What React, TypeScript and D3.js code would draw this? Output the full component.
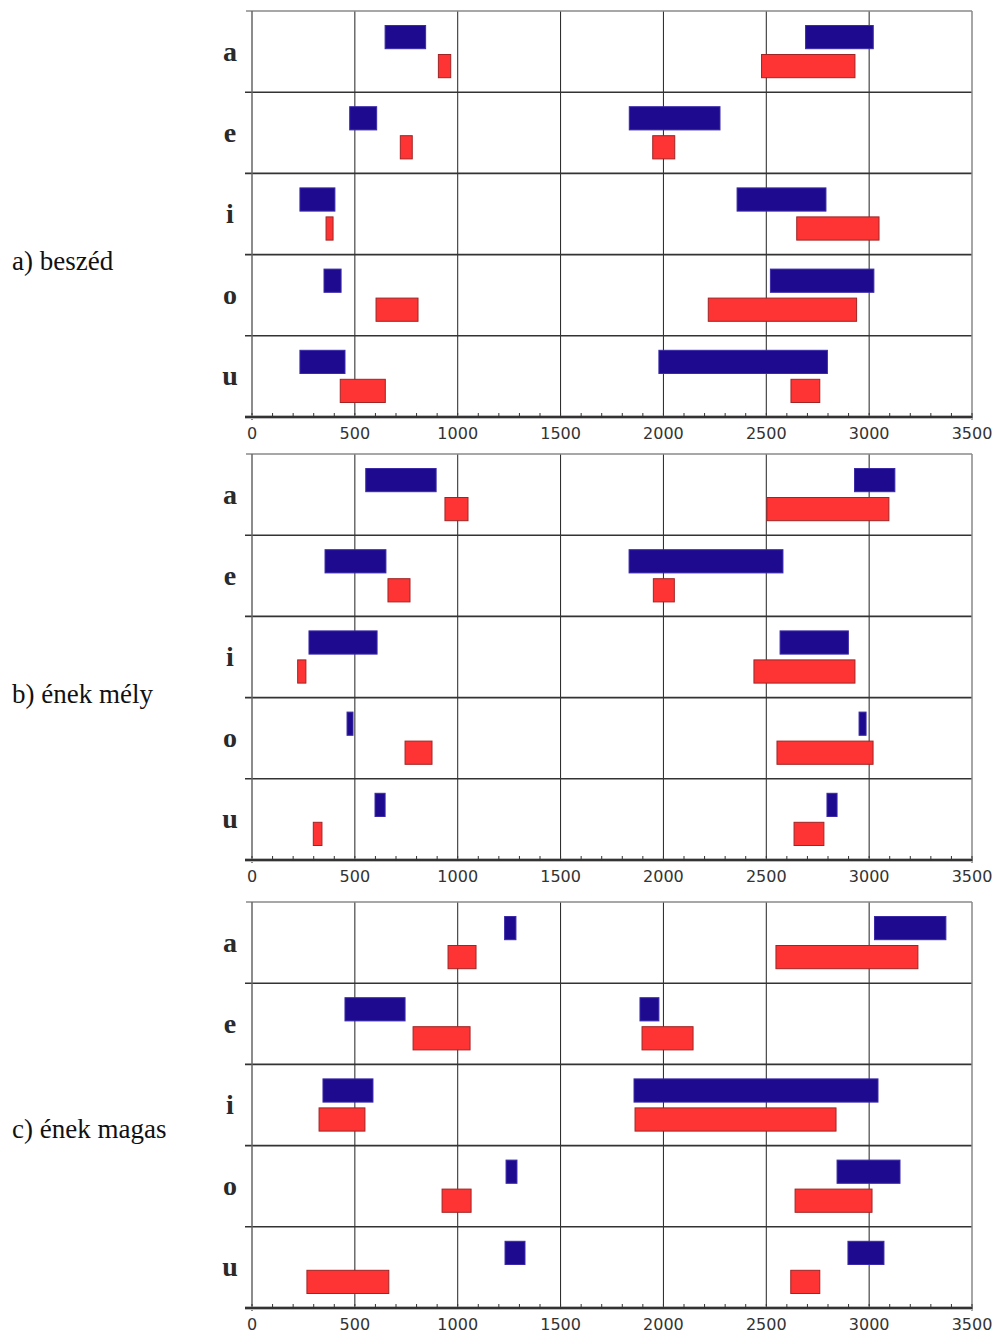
import React from 'react';
import * as d3 from 'd3';

// formant ranges (Hz): [[low start, low end], [high start, high end]] per vowel
const vowels = ['a', 'e', 'i', 'o', 'u'];
const xTicks = [0, 500, 1000, 1500, 2000, 2500, 3000, 3500];
const panelNames = ['a) beszéd', 'b) ének mély', 'c) ének magas'];

const beszedBlue = [
  [[647, 844], [2691, 3020]],
  [[475, 606], [1834, 2275]],
  [[233, 403], [2358, 2790]],
  [[350, 433], [2520, 3023]],
  [[233, 452], [1978, 2797]],
];
const beszedRed = [
  [[906, 966], [2477, 2931]],
  [[721, 779], [1948, 2055]],
  [[360, 394], [2648, 3048]],
  [[603, 807], [2218, 2939]],
  [[429, 648], [2620, 2760]],
];

const melyBlue = [
  [[553, 895], [2929, 3125]],
  [[355, 651], [1833, 2581]],
  [[277, 608], [2567, 2899]],
  [[462, 491], [2951, 2985]],
  [[598, 647], [2795, 2844]],
];
const melyRed = [
  [[938, 1050], [2503, 3096]],
  [[661, 768], [1951, 2053]],
  [[222, 262], [2440, 2931]],
  [[744, 875], [2552, 3019]],
  [[298, 340], [2635, 2780]],
];

const magasBlue = [
  [[1228, 1283], [3026, 3373]],
  [[452, 744], [1886, 1978]],
  [[345, 588], [1857, 3043]],
  [[1235, 1288], [2844, 3150]],
  [[1230, 1327], [2897, 3072]],
];
const magasRed = [
  [[953, 1089], [2547, 3237]],
  [[783, 1060], [1896, 2144]],
  [[326, 549], [1862, 2839]],
  [[924, 1065], [2640, 3014]],
  [[267, 665], [2619, 2760]],
];

const panels = [
  { name: panelNames[0], blue: beszedBlue, red: beszedRed },
  { name: panelNames[1], blue: melyBlue, red: melyRed },
  { name: panelNames[2], blue: magasBlue, red: magasRed },
];

const W = 1000;
const H = 1335;
const panelTops = [11, 454, 902];
const panelH = 406;
const labelBaselines = [270, 703, 1138];

const BLUE = '#1e0a8e';
const BLUE_STROKE = '#3a2aa8';
const RED = '#fe3434';
const RED_STROKE = '#a02424';

const x = d3.scaleLinear().domain([0, 3500]).range([252, 972]);
const minorTicks = d3.range(0, 3501, 100);

function Panel({ panel, top, labelY }) {
  const y = d3.scaleBand().domain(vowels).range([top, top + panelH]);
  const sub = d3.scaleBand().domain(['blue', 'red']).range([0, y.bandwidth()]).paddingInner(0.2).paddingOuter(0.5);
  const bottom = top + panelH;
  const [x0, x1] = x.range();

  const bars = (series, key, fill, stroke) =>
    series.flatMap((ranges, i) =>
      ranges.map(([a, b], j) => (
        <rect
          key={`${key}-${i}-${j}`}
          x={x(a)}
          y={y(vowels[i]) + sub(key)}
          width={x(b) - x(a)}
          height={sub.bandwidth()}
          fill={fill}
          stroke={stroke}
          strokeWidth={1}
        />
      ))
    );

  return (
    <g>
      <text x={12} y={labelY} fontFamily="Liberation Serif, serif" fontSize={27} fill="#111">
        {panel.name}
      </text>

      {/* vertical grid */}
      {xTicks.slice(1, -1).map(t => (
        <line key={t} x1={x(t)} x2={x(t)} y1={top} y2={bottom} stroke="#222" strokeWidth={1} />
      ))}

      {/* top border + row separators */}
      <line x1={246} x2={x1} y1={top} y2={top} stroke="#8a8a8a" strokeWidth={1.5} />
      {vowels.slice(1).map(v => (
        <line key={v} x1={245} x2={x1} y1={y(v)} y2={y(v)} stroke="#333" strokeWidth={1.6} />
      ))}
      <line x1={x0} x2={x0} y1={top} y2={bottom + 3} stroke="#666" strokeWidth={1.5} />
      <line x1={x1} x2={x1} y1={top} y2={bottom + 3} stroke="#888" strokeWidth={1.5} />

      {bars(panel.blue, 'blue', BLUE, BLUE_STROKE)}
      {bars(panel.red, 'red', RED, RED_STROKE)}

      {vowels.map(v => (
        <text
          key={v}
          x={230}
          y={y(v) + y.bandwidth() / 2 + 9}
          textAnchor="middle"
          fontFamily="Liberation Serif, serif"
          fontWeight="bold"
          fontSize={28}
          fill="#2a2a2a"
        >
          {v}
        </text>
      ))}

      {/* x axis */}
      <line x1={245} x2={x1} y1={bottom} y2={bottom} stroke="#bbb" strokeWidth={4} />
      <line x1={245} x2={x1} y1={bottom} y2={bottom} stroke="#333" strokeWidth={1.8} />
      {minorTicks.map(t => (
        <line key={t} x1={x(t)} x2={x(t)} y1={bottom - 4} y2={bottom + 1} stroke="#333" strokeWidth={1} />
      ))}
      {xTicks.map(t => (
        <text
          key={t}
          x={x(t)}
          y={bottom + 22}
          textAnchor="middle"
          fontFamily="DejaVu Sans, sans-serif"
          fontSize={16}
          fill="#333"
        >
          {t}
        </text>
      ))}
    </g>
  );
}

export default function App() {
  return (
    <svg
      width={W}
      height={H}
      viewBox={`0 0 ${W} ${H}`}
      style={{ position: 'absolute', left: 0, top: 0, background: '#fff' }}
    >
      <rect width={W} height={H} fill="#fff" />
      {panels.map((p, i) => (
        <Panel key={p.name} panel={p} top={panelTops[i]} labelY={labelBaselines[i]} />
      ))}
    </svg>
  );
}
